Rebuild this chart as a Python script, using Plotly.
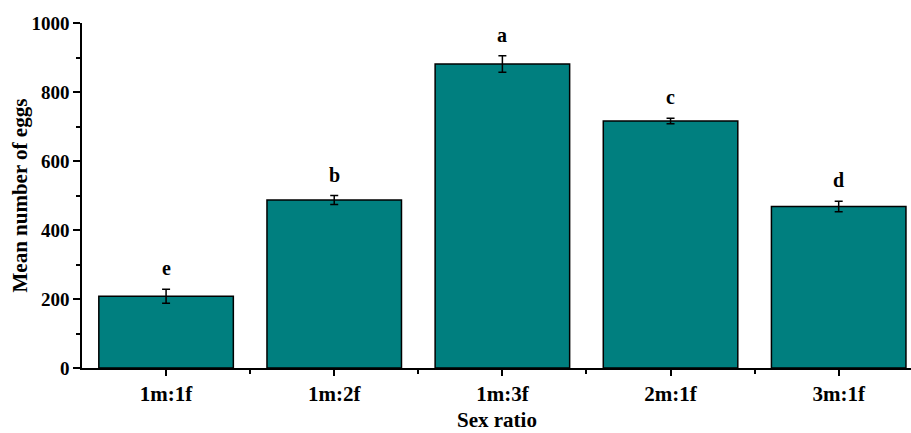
import plotly.graph_objects as go

categories = ["1m:1f", "1m:2f", "1m:3f", "2m:1f", "3m:1f"]
means = [208, 487, 881, 716, 468]
errors = [20, 13, 24, 8, 15]
letters = ["e", "b", "a", "c", "d"]
y_ticks = [0, 200, 400, 600, 800, 1000]

FONT = "Liberation Serif"

fig = go.Figure()
fig.add_trace(go.Bar(
    x=list(range(len(categories))), y=means,
    width=0.8,
    marker=dict(color="#007F7F", line=dict(color="black", width=1.5)),
    error_y=dict(type="data", array=errors, visible=True, color="black",
                 thickness=1.5, width=4),
))

for i, (m, e, l) in enumerate(zip(means, errors, letters)):
    fig.add_annotation(x=i, y=m + e, text=f"<b>{l}</b>", showarrow=False,
                       yanchor="bottom", yshift=8,
                       font=dict(family=FONT, size=20, color="black"))

# axis titles
fig.add_annotation(xref="paper", yref="paper", x=0.5, y=0, yshift=-52,
                   text="<b>Sex ratio</b>", showarrow=False, yanchor="middle",
                   font=dict(family=FONT, size=21, color="black"))
fig.add_annotation(xref="paper", yref="paper", x=0, y=0.5, xshift=-63,
                   text="<b>Mean number of eggs</b>", showarrow=False,
                   textangle=-90, xanchor="center", yanchor="middle",
                   font=dict(family=FONT, size=21, color="black"))

fig.update_layout(
    width=911, height=433,
    margin=dict(l=82, r=0, t=23, b=65, autoexpand=False),
    paper_bgcolor="white", plot_bgcolor="white",
    showlegend=False,
    font=dict(family=FONT, color="black"),
    bargap=0.2,
)
fig.update_xaxes(
    range=[-0.5, 4.43], automargin=False,
    tickmode="array", tickvals=list(range(len(categories))),
    ticktext=[f"<b>{c}</b>" for c in categories],
    tickfont=dict(family=FONT, size=21, color="black"),
    showline=True, linecolor="black", linewidth=1.5,
    ticks="outside", ticklen=6, tickwidth=1.5, tickcolor="black",
    minor=dict(tickvals=[0.5, 1.5, 2.5, 3.5], ticks="outside", ticklen=4, tickwidth=1.5, tickcolor="black"),
    showgrid=False, zeroline=False,
)
fig.update_yaxes(
    range=[0, 1000], automargin=False,
    tickmode="array", tickvals=y_ticks,
    ticktext=[f"<b>{v}</b>" for v in y_ticks],
    tickfont=dict(family=FONT, size=19, color="black"),
    showline=True, linecolor="black", linewidth=1.5,
    ticks="outside", ticklen=7, tickwidth=1.5, tickcolor="black",
    minor=dict(tickvals=[100, 300, 500, 700, 900], ticks="outside", ticklen=4, tickwidth=1.5, tickcolor="black"),
    showgrid=False, zeroline=False,
)

fig.write_html("out.html", config={"displayModeBar": False},
               post_script="document.body.style.margin='0';document.body.style.overflow='hidden';")
